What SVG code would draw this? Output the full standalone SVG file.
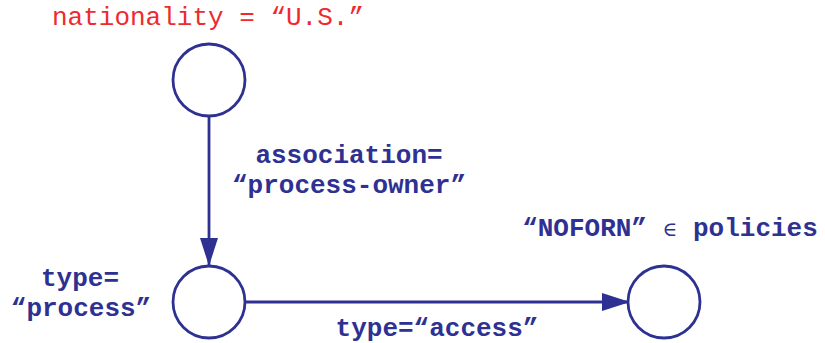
<svg xmlns="http://www.w3.org/2000/svg" width="825" height="343" viewBox="0 0 825 343">
<style>
.node{fill:#fff;stroke:#2E3192;stroke-width:2.8}
.edge{stroke:#2E3192;stroke-width:2.8;fill:none}
.lbl{font-family:"Liberation Mono",monospace;font-size:26px;font-weight:bold;fill:#2E3192;text-anchor:middle}
.red{font-family:"Liberation Mono",monospace;font-size:26px;fill:#EE2A2E;text-anchor:middle}
.sym{font-family:"DejaVu Serif",serif;font-weight:normal;font-size:20px}
</style>
<defs>
<marker id="arr" markerWidth="28" markerHeight="18" refX="28" refY="9" orient="auto" markerUnits="userSpaceOnUse">
<path d="M0,0 L28,9 L0,18 Z" fill="#2E3192"/>
</marker>
</defs>
<g id="connectors">
<line class="edge" x1="209" y1="116" x2="209" y2="266" marker-end="url(#arr)"/>
<line class="edge" x1="245" y1="302" x2="630" y2="302" marker-end="url(#arr)"/>
<text class="lbl" x="349" y="163">association=</text>
<text class="lbl" x="349" y="193">“process-owner”</text>
<text class="lbl" x="437" y="336">type=“access”</text>
</g>
<g id="n1">
<circle class="node" cx="209" cy="80" r="36"/>
<text class="red" x="208" y="25">nationality = “U.S.”</text>
</g>
<g id="n2">
<circle class="node" cx="209" cy="302" r="36"/>
<text class="lbl" x="80" y="286">type=</text>
<text class="lbl" x="81" y="316">“process”</text>
</g>
<g id="n3">
<circle class="node" cx="664" cy="302" r="36"/>
<text class="lbl" x="670" y="236">“NOFORN” <tspan class="sym">∈</tspan> policies</text>
</g>
</svg>
